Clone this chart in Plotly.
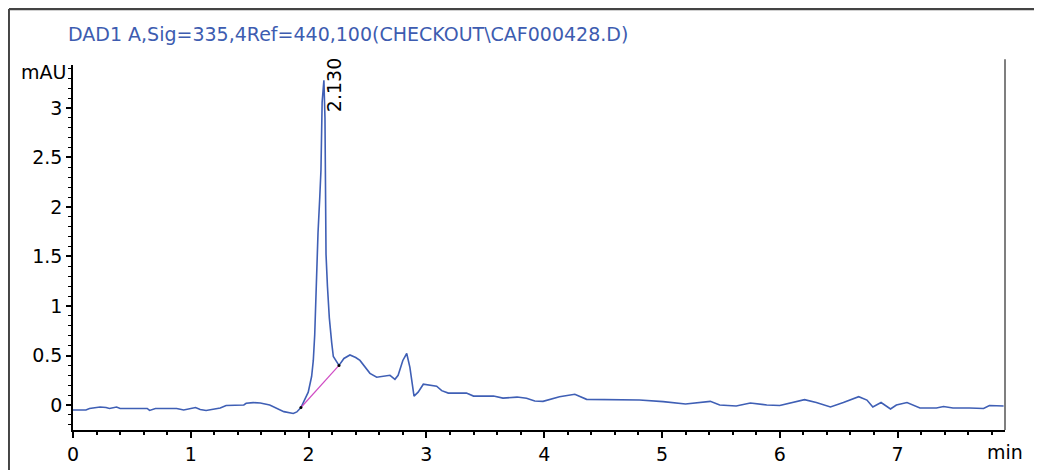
import plotly.graph_objects as go

# ---- data ----
time_min = [0.00, 0.11, 0.14, 0.23, 0.28, 0.31, 0.37, 0.40, 0.63, 0.65, 0.70, 0.88, 0.94,
            1.04, 1.08, 1.13, 1.25, 1.30, 1.45, 1.47, 1.53, 1.59, 1.67, 1.73, 1.79, 1.87,
            1.90, 1.935, 1.955, 1.997, 2.026, 2.040, 2.052, 2.063, 2.080, 2.095, 2.105,
            2.115, 2.130, 2.139, 2.142, 2.148, 2.160, 2.176, 2.196, 2.210, 2.258, 2.300,
            2.351, 2.400, 2.436, 2.480, 2.521, 2.578, 2.640, 2.691, 2.733, 2.760, 2.800,
            2.833, 2.860, 2.895, 2.930, 2.974, 3.087, 3.130, 3.186, 3.340, 3.400, 3.570,
            3.650, 3.770, 3.850, 3.920, 3.990, 4.130, 4.260, 4.360, 4.810, 5.010, 5.200,
            5.410, 5.490, 5.630, 5.750, 5.890, 6.000, 6.110, 6.210, 6.310, 6.430, 6.540,
            6.670, 6.740, 6.790, 6.860, 6.940, 6.990, 7.080, 7.190, 7.330, 7.390, 7.470,
            7.610, 7.730, 7.780, 7.900]
signal_mau = [-0.05, -0.05, -0.035, -0.02, -0.025, -0.035, -0.02, -0.035, -0.035, -0.055,
              -0.035, -0.035, -0.05, -0.025, -0.045, -0.055, -0.03, -0.005, 0.0, 0.017,
              0.024, 0.02, 0.0, -0.035, -0.067, -0.085, -0.07, -0.025, 0.03, 0.13, 0.29,
              0.45, 0.71, 1.16, 1.74, 2.10, 2.37, 3.06, 3.28, 2.90, 2.55, 1.52, 1.20, 0.88,
              0.63, 0.49, 0.40, 0.47, 0.505, 0.48, 0.45, 0.38, 0.32, 0.28, 0.29, 0.30, 0.26,
              0.30, 0.45, 0.52, 0.38, 0.09, 0.13, 0.21, 0.19, 0.145, 0.12, 0.12, 0.09, 0.09,
              0.07, 0.08, 0.068, 0.04, 0.037, 0.084, 0.108, 0.057, 0.05, 0.034, 0.01, 0.037,
              0.0, -0.01, 0.02, 0.0, -0.005, 0.025, 0.054, 0.025, -0.02, 0.025, 0.084, 0.05,
              -0.02, 0.025, -0.04, 0.0, 0.025, -0.03, -0.03, -0.015, -0.03, -0.03, -0.035,
              -0.005, -0.01]

baseline_t = [1.935, 2.258]
baseline_v = [-0.025, 0.40]

peak_rt = 2.130
peak_height = 3.28
peak_label = "2.130"

x_ticks = [0, 1, 2, 3, 4, 5, 6, 7]
y_ticks = [0, 0.5, 1, 1.5, 2, 2.5, 3]
y_tick_text = ["0", "0.5", "1", "1.5", "2", "2.5", "3"]

title_text = "DAD1 A,Sig=335,4Ref=440,100(CHECKOUT\\CAF000428.D)"

FONT = "DejaVu Sans, sans-serif"
FS = 19
BLUE = "#3f5fb5"

fig = go.Figure()
fig.add_trace(go.Scatter(x=time_min, y=signal_mau, mode="lines",
                         line=dict(color=BLUE, width=1.6), hoverinfo="skip"))
fig.add_trace(go.Scatter(x=baseline_t, y=baseline_v, mode="lines+markers",
                         line=dict(color="#d04cc4", width=1.2),
                         marker=dict(color="black", size=3), hoverinfo="skip"))

fig.add_annotation(x=peak_rt, y=peak_height, xref="x", yref="y", text=peak_label,
                   textangle=-90, showarrow=False, xshift=10, yshift=-5,
                   xanchor="center", yanchor="middle",
                   font=dict(family=FONT, size=FS, color="black"))

fig.add_annotation(x=-0.0075, y=1.085, xref="paper", yref="paper", text=title_text,
                   showarrow=False, xanchor="left", yanchor="middle",
                   font=dict(family=FONT, size=FS, color="#3d5cb0"))
fig.add_annotation(x=0, y=0.981, xref="paper", yref="paper", text="mAU",
                   showarrow=False, xanchor="right", yanchor="middle", xshift=-5,
                   font=dict(family=FONT, size=FS, color="black"))
fig.add_annotation(x=1, y=0, xref="paper", yref="paper", text="min",
                   showarrow=False, xanchor="center", yanchor="top", yshift=-9,
                   font=dict(family=FONT, size=FS, color="black"))

# right frame line and outer border
fig.add_shape(type="line", xref="paper", yref="paper", x0=1, x1=1, y0=0, y1=1.016,
              line=dict(color="#555555", width=1.5))
fig.add_shape(type="line", xref="paper", yref="paper", x0=-0.0687, x1=1.05,
              y0=1.1534, y1=1.1534, line=dict(color="#444444", width=2.5))
fig.add_shape(type="line", xref="paper", yref="paper", x0=-0.0687, x1=-0.0687,
              y0=1.1534, y1=-0.2, line=dict(color="#444444", width=2))

fig.update_layout(
    width=1034, height=462,
    margin=dict(l=65, r=37, t=57, b=40),
    paper_bgcolor="white", plot_bgcolor="white",
    showlegend=False,
    font=dict(family=FONT, size=FS, color="black"),
)
fig.update_xaxes(range=[0, 7.912], tickvals=x_ticks, ticks="outside", ticklen=6,
                 tickwidth=1.5, tickcolor="black", showline=True, linecolor="black",
                 linewidth=1.5, showgrid=False, zeroline=False, automargin=False,
                 minor=dict(dtick=0.2, tick0=0, ticks="outside", ticklen=3,
                            tickcolor="black", tickwidth=1.5),
                 tickfont=dict(family=FONT, size=FS, color="black"))
fig.update_yaxes(range=[-0.2525, 3.434], tickvals=y_ticks, ticktext=y_tick_text,
                 ticks="outside", ticklen=5, tickwidth=1.5, tickcolor="black",
                 showline=True, linecolor="black", linewidth=1.5, showgrid=False,
                 zeroline=False, automargin=False,
                 minor=dict(dtick=0.1, tick0=0, ticks="outside", ticklen=3,
                            tickcolor="black", tickwidth=1),
                 tickfont=dict(family=FONT, size=FS, color="black"))

fig.write_html("out.html")
